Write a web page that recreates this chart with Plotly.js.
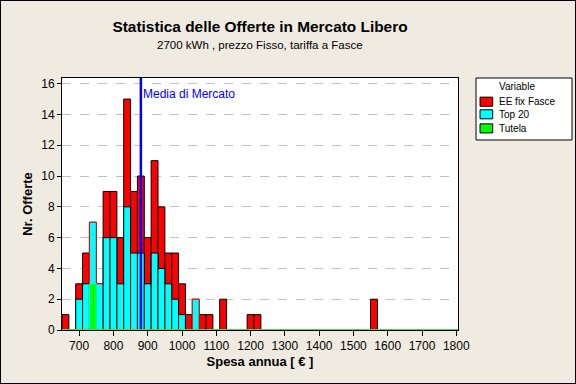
<!DOCTYPE html>
<html><head><meta charset="utf-8">
<script src="https://cdn.plot.ly/plotly-3.0.1.min.js"></script>
<style>html,body{margin:0;padding:0;background:#efebe1}
#wrap{width:574px;height:382px;border:1px solid #000;background:#efebe1}
#chart{width:574px;height:382px}</style>
</head><body><div id="wrap"><div id="chart"></div></div>
<script>
// bin centres (bin width 20 €) and counts
const eeBins   = [660, 700, 720, 740, 760, 780, 800, 820, 840, 860, 880, 900, 920, 940, 960, 980, 1000, 1020, 1040, 1060, 1080, 1120, 1200, 1220, 1560];
const eeCounts = [1,   3,   5,   7,   3,   9,   9,   6,   15,  9,   10,  6,   11,  8,   5,   5,   3,    1,    2,    1,    1,    2,    1,    1,    2];
const topBins   = [700, 720, 740, 760, 780, 800, 820, 840, 860, 880, 900, 920, 940, 960, 980, 1000, 1040];
const topCounts = [2,   3,   7,   3,   6,   6,   3,   8,   5,   5,   3,   5,   4,   3,   2,   1,    2];
const tutBins   = [740];
const tutCounts = [3];
const meanValue = 880;
const seriesNames  = ['EE fix Fasce', 'Top 20', 'Tutela'];
const seriesColors = ['#ff0000', '#00ffff', '#00ff00'];
const xTickVals = [700, 800, 900, 1000, 1100, 1200, 1300, 1400, 1500, 1600, 1700, 1800];
const yTickVals = [0, 2, 4, 6, 8, 10, 12, 14, 16];
const binWidth = 20;

const FONT = 'Liberation Sans, Arial, sans-serif';

// cyan bars that equal the red count show a red edge
const topLineColors = topBins.map((b, i) => {
  const j = eeBins.indexOf(b);
  return (j >= 0 && eeCounts[j] === topCounts[i]) ? '#ff0000' : '#000000';
});

const traces = [
  {type:'bar', name:seriesNames[0], x: eeBins, y: eeCounts, width: binWidth, showlegend:false,
   marker:{color:seriesColors[0], line:{color:'#000000', width:1}}},
  {type:'bar', name:seriesNames[1], x: topBins, y: topCounts, width: binWidth, showlegend:false,
   marker:{color:seriesColors[1], line:{color: topLineColors, width:1}}},
  {type:'bar', name:seriesNames[2], x: tutBins, y: tutCounts, width: binWidth, showlegend:false,
   marker:{color:seriesColors[2], line:{color:'#00ffff', width:1}}}
];

// legend drawn by hand (paper coordinates)
const shapes = [
  {type:'line', xref:'x', yref:'paper', x0:meanValue, x1:meanValue, y0:0, y1:1,
   line:{color:'#0000ff', width:2.5}, layer:'above'},
  {type:'line', xref:'paper', yref:'y', x0:0, x1:1, y0:0, y1:0,
   line:{color:'#5ccc5c', width:2}, layer:'above'},
  {type:'rect', xref:'paper', yref:'paper', x0:1.0455, x1:1.2879, y0:0.754, y1:1.0,
   fillcolor:'#ffffff', line:{color:'#000', width:1}}
];
const annotations = [
  {text:'2700 kWh , prezzo Fisso, tariffa a Fasce', xref:'paper', yref:'paper', x:0.5, y:1.131,
   xanchor:'center', yanchor:'middle', showarrow:false, font:{family:FONT, size:11.5, color:'#000'}},
  {text:'Media di Mercato', xref:'x', yref:'y', x:meanValue, y:15.3, xanchor:'left', yanchor:'middle',
   showarrow:false, font:{family:FONT, size:12, color:'#0000ff'}},
  {text:'Variable', xref:'paper', yref:'paper', x:1.098, y:0.9655, xanchor:'left', yanchor:'middle',
   showarrow:false, font:{family:FONT, size:10, color:'#000'}}
];
const legendY = [0.906, 0.856, 0.800];
seriesNames.forEach((n, i) => {
  shapes.push({type:'rect', xref:'paper', yref:'paper', x0:1.0556, x1:1.0876,
               y0:legendY[i]-0.018, y1:legendY[i]+0.018,
               fillcolor:seriesColors[i], line:{color:'#000', width:1}});
  annotations.push({text:n, xref:'paper', yref:'paper', x:1.098, y:legendY[i], xanchor:'left', yanchor:'middle',
                    showarrow:false, font:{family:FONT, size:10, color:'#000'}});
});

const layout = {
  width:574, height:382,
  margin:{l:61, r:117, t:77, b:53, autoexpand:false},
  paper_bgcolor:'#efebe1', plot_bgcolor:'#ffffff',
  font:{family:FONT, size:12, color:'#000'},
  barmode:'overlay', bargap:0, showlegend:false,
  title:{text:'<b>Statistica delle Offerte in Mercato Libero</b>',
         font:{family:FONT, size:15.4, color:'#000'},
         x:0.5, xref:'paper', xanchor:'center', y:0.932, yref:'container', yanchor:'middle'},
  xaxis:{range:[650, 1805], tickvals:xTickVals, ticks:'outside', ticklen:5, tickcolor:'#000',
         showline:true, mirror:true, linecolor:'#000', linewidth:1, showgrid:false, zeroline:false,
         tickfont:{size:12},
         title:{text:'<b>Spesa annua [ € ]</b>', font:{size:13}, standoff:4}},
  yaxis:{range:[0, 16.37], tickvals:yTickVals, ticks:'outside', ticklen:4, tickcolor:'#000',
         showline:true, mirror:true, linecolor:'#000', linewidth:1,
         showgrid:true, gridcolor:'#c0c0c0', griddash:'dash', gridwidth:1, zeroline:false,
         tickfont:{size:12},
         title:{text:'<b>Nr. Offerte</b>', font:{size:13}, standoff:5}},
  shapes: shapes,
  annotations: annotations
};

Plotly.newPlot('chart', traces, layout, {displayModeBar:false, staticPlot:true});
</script>
</body></html>
